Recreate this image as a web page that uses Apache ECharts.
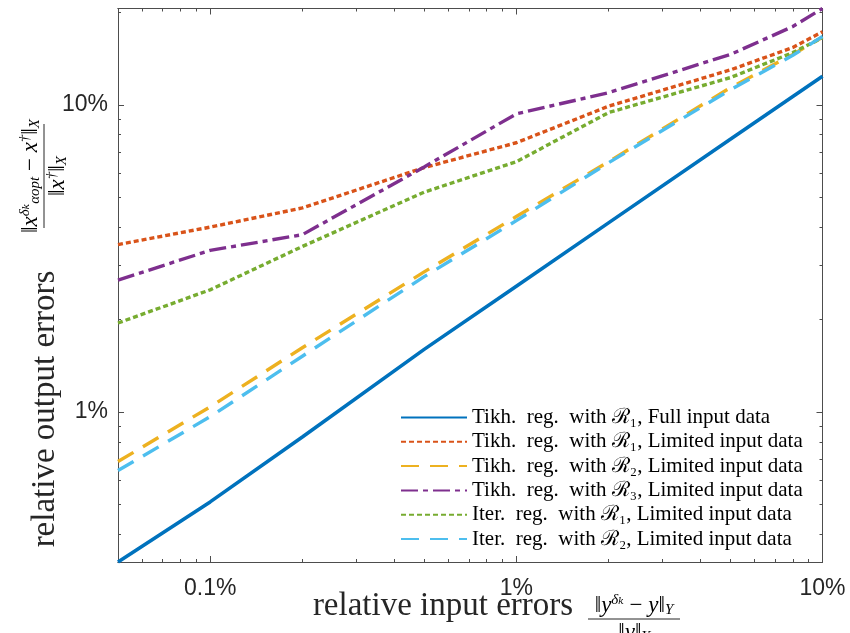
<!DOCTYPE html>
<html>
<head>
<meta charset="utf-8">
<script src="https://cdn.jsdelivr.net/npm/echarts@6/dist/echarts.min.js"></script>
<style>
html,body{margin:0;padding:0;background:#fff;}
#chart{width:850px;height:633px;}
</style>
</head>
<body>
<div id="chart"></div>
<script>
// ---- data ----
const inputErrors = [0.0005, 0.001, 0.002, 0.005, 0.01, 0.02, 0.05, 0.08, 0.1];
const tikhR1Full = [0.00325, 0.0051, 0.0083, 0.016, 0.0257, 0.0413, 0.0773, 0.1065, 0.124];
const tikhR1Lim  = [0.0351, 0.040, 0.0462, 0.0625, 0.0753, 0.099, 0.130, 0.1538, 0.173];
const tikhR2Lim  = [0.0069, 0.0104, 0.0162, 0.0286, 0.0433, 0.0653, 0.1138, 0.146, 0.166];
const tikhR3Lim  = [0.0269, 0.0336, 0.0378, 0.0628, 0.0935, 0.1096, 0.1459, 0.180, 0.206];
const iterR1Lim  = [0.0195, 0.025, 0.0346, 0.052, 0.0653, 0.0944, 0.1227, 0.148, 0.1656];
const iterR2Lim  = [0.00645, 0.00966, 0.0152, 0.0276, 0.042, 0.0648, 0.112, 0.145, 0.167];

const seriesNames = [
  'Tikh.  reg.  with ℛ₁, Full input data',
  'Tikh.  reg.  with ℛ₁, Limited input data',
  'Tikh.  reg.  with ℛ₂, Limited input data',
  'Tikh.  reg.  with ℛ₃, Limited input data',
  'Iter.  reg.  with ℛ₁, Limited input data',
  'Iter.  reg.  with ℛ₂, Limited input data'
];

const xMin = 0.0005, xMax = 0.1;
const yMin = 0.00325, yMax = 0.206;
const xMajorTicks = [0.001, 0.01, 0.1];
const xMinorTicks = [0.0006,0.0007,0.0008,0.0009,0.002,0.003,0.004,0.005,0.006,0.007,0.008,0.009,0.02,0.03,0.04,0.05,0.06,0.07,0.08,0.09];
const yMajorTicks = [0.01, 0.1];
const yMinorTicks = [0.004,0.005,0.006,0.007,0.008,0.009,0.02,0.03,0.04,0.05,0.06,0.07,0.08,0.09,0.2];

// ---- styling ----
const colors = ['#0072BD', '#D95319', '#EDB120', '#7E2F8E', '#77AC30', '#4DBEEE'];
const dashes = ['solid', [5, 3], [18, 11], [17, 5, 5, 5], [5, 3], [18, 11]];
const widths = [3.6, 3.4, 3.4, 3.4, 3.4, 3.4];
const allSeries = [tikhR1Full, tikhR1Lim, tikhR2Lim, tikhR3Lim, iterR1Lim, iterR2Lim];

const pct = v => Number((v * 100).toPrecision(3)) + '%';
const axisColor = '#4d4d4d';
const tickFont = {fontFamily: '"Liberation Sans", Arial, sans-serif', fontSize: 23, color: '#262626'};
const serif = '"Liberation Serif", "DejaVu Serif", serif';

function xAx(grid, pos, ticks, len, labels) {
  return {
    type: 'log', gridIndex: grid, position: pos, min: xMin, max: xMax,
    axisLine: {show: true, lineStyle: {color: axisColor, width: 1}},
    axisTick: {show: true, inside: true, length: len, customValues: ticks, lineStyle: {color: axisColor, width: 1}},
    axisLabel: labels ? Object.assign({show: true, customValues: xMajorTicks, formatter: pct, margin: 15}, tickFont) : {show: false},
    splitLine: {show: false}, minorTick: {show: false}
  };
}
function yAx(grid, pos, ticks, len, labels) {
  return {
    type: 'log', gridIndex: grid, position: pos, min: yMin, max: yMax,
    axisLine: {show: true, lineStyle: {color: axisColor, width: 1}},
    axisTick: {show: true, inside: true, length: len, customValues: ticks, lineStyle: {color: axisColor, width: 1}},
    axisLabel: labels ? Object.assign({show: true, customValues: yMajorTicks, formatter: pct, margin: 10}, tickFont) : {show: false},
    splitLine: {show: false}, minorTick: {show: false}
  };
}

const gridRect = {left: 118, right: 27.5, top: 8.5, bottom: 71, outerBoundsMode: 'none', containLabel: false};

const mathRich = {
  n: {fontFamily: serif, fontSize: 23, color: '#262626', lineHeight: 25, verticalAlign: 'middle'},
  v: {fontFamily: serif, fontSize: 23, fontStyle: 'italic', color: '#262626', lineHeight: 25, verticalAlign: 'middle'},
  sup: {fontFamily: serif, fontSize: 15, fontStyle: 'italic', color: '#262626', lineHeight: 14, verticalAlign: 'top'},
  sub: {fontFamily: serif, fontSize: 15, fontStyle: 'italic', color: '#262626', lineHeight: 14, verticalAlign: 'bottom'}
};

function fraction(num, den, halfLen) {
  return [
    {type: 'text', x: 0, y: -1, style: {text: num, rich: mathRich, align: 'center', textAlign: 'center', verticalAlign: 'bottom', textVerticalAlign: 'bottom'}},
    {type: 'line', shape: {x1: -halfLen, y1: 0, x2: halfLen, y2: 0}, style: {stroke: '#262626', lineWidth: 1}},
    {type: 'text', x: 0, y: 1, style: {text: den, rich: mathRich, align: 'center', textAlign: 'center', verticalAlign: 'top', textVerticalAlign: 'top'}}
  ];
}

const option = {
  backgroundColor: '#ffffff',
  animation: false,
  grid: [Object.assign({}, gridRect), Object.assign({}, gridRect)],
  xAxis: [
    xAx(0, 'bottom', xMajorTicks, 6, true),
    xAx(0, 'top', xMajorTicks, 6, false),
    xAx(1, 'bottom', xMinorTicks, 3, false),
    xAx(1, 'top', xMinorTicks, 3, false)
  ],
  yAxis: [
    yAx(0, 'left', yMajorTicks, 6, true),
    yAx(0, 'right', yMajorTicks, 6, false),
    yAx(1, 'left', yMinorTicks, 3, false),
    yAx(1, 'right', yMinorTicks, 3, false)
  ],
  legend: {
    orient: 'vertical', left: 400, top: 407, padding: 0,
    itemWidth: 66, itemHeight: 2, itemGap: 3.3, itemTextGap: 6,
    itemStyle: {opacity: 0},
    textStyle: {fontFamily: serif, fontSize: 21, color: '#000', lineHeight: 20},
    data: seriesNames
  },
  series: allSeries.map((vals, i) => ({
    name: seriesNames[i],
    type: 'line',
    xAxisIndex: 0, yAxisIndex: 0,
    symbol: 'none',
    data: inputErrors.map((x, j) => [x, vals[j]]),
    lineStyle: {color: colors[i], width: widths[i], type: dashes[i], cap: 'butt'},
    itemStyle: {color: colors[i]},
    clip: true,
    z: 2 + i
  })),
  graphic: [
    {type: 'text', x: 443, y: 606, style: {text: 'relative input errors', font: '33px ' + serif, fill: '#262626', align: 'center', textAlign: 'center', verticalAlign: 'middle', textVerticalAlign: 'middle'}},
    {type: 'group', x: 634, y: 619, children: fraction('{n|‖}{v|y}{sup|δₖ}{n| − }{v|y}{n|‖}{sub|Y}', '{n|‖}{v|y}{n|‖}{sub|Y}', 46)},
    {type: 'text', x: 45, y: 409, rotation: Math.PI / 2, style: {text: 'relative output errors', font: '33px ' + serif, fill: '#262626', align: 'center', textAlign: 'center', verticalAlign: 'middle', textVerticalAlign: 'middle'}},
    {type: 'group', x: 44, y: 176, rotation: Math.PI / 2, children: fraction('{n|‖}{v|x}{sup|δₖ}{sub|αopt}{n| − }{v|x}{sup|†}{n|‖}{sub|X}', '{n|‖}{v|x}{sup|†}{n|‖}{sub|X}', 52)}
  ]
};

const chart = echarts.init(document.getElementById('chart'), null, {renderer: 'canvas'});
chart.setOption(option);
</script>
</body>
</html>
